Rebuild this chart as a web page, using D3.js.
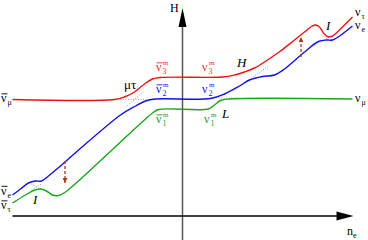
<!DOCTYPE html>
<html>
<head>
<meta charset="utf-8">
<script src="https://cdn.jsdelivr.net/npm/d3@7"></script>
<style>
  body { margin: 0; background: #fff; }
  text { font-family: "Liberation Serif", "DejaVu Serif", serif; }
</style>
</head>
<body>
<div id="chart"></div>
<script>
var W = 368, H = 240;

// level curves, arbitrary units (n_e, H)
var redLevel = [[-170,115.5],[-68,115.5],[-58,118],[-48,123],[-38,131],[-30,136],[-22,137.5],
  [40,138],[52,140],[62,143],[72,147],[85,155],[98,164],[112,175],[122,183],[129,188.5],[133,190],
  [137,188],[141,182],[145,178.5],[149,178.5],[156,184],[164,192],[170,198]];
var blueLevel = [[-170,20],[-162,26],[-154,32],[-147,34],[-141,34],[-134,39],[-122,49],[-105,64],
  [-62,100],[-47,109],[-37,114],[-27,116],[28,116.5],[42,121],[57,129],[67,135],[80,138.5],
  [92,140],[102,146],[122,163],[136,173.5],[144,175],[150,175],[157,179],[170,189]];
var greenLevel = [[-170,12],[-157,20],[-149,24.5],[-142,26],[-136,24],[-130,20],[-124,19.5],
  [-117,23],[-92,45],[-62,73],[-37,96],[-30,102],[-24,105.5],[26,106],[32,110],[38,114.5],
  [46,116],[170,116]];

// unperturbed levels near the resonances
var dotted = [
  [[-62,115.5],[-30,115.5]],
  [[-57,108],[-38,124]],
  [[52,125],[86,149]],
  [[36,117],[56,117]],
  [[-151,31],[-141,25]],
  [[-151,25],[-141,31]],
  [[139,180],[150,173]],
  [[139,173],[150,180]]
];

// brown arrows: [n_e, from H, to H]
var arrows = [[-117.5,54,32],[118.5,158,178]];

var x = d3.scaleLinear().domain([-170,170]).range([12.5,352.5]);
var y = d3.scaleLinear().domain([0,210]).range([215,5]);

var svg = d3.select("#chart").append("svg")
  .attr("width", W)
  .attr("height", H);

var defs = svg.append("defs");
defs.append("marker").attr("id","brownHead")
  .attr("viewBox","0 0 10 10").attr("refX",10).attr("refY",5)
  .attr("markerWidth",5).attr("markerHeight",5).attr("orient","auto")
  .attr("markerUnits","userSpaceOnUse")
  .append("path").attr("d","M0,0L10,5L0,10Z").attr("fill","#a0401a");

var line = d3.line()
  .x(function(d){ return x(d[0]); })
  .y(function(d){ return y(d[1]); })
  .curve(d3.curveCatmullRom.alpha(0.5));

// axes
svg.append("line")
  .attr("x1", x(0)).attr("x2", x(0))
  .attr("y1", 240).attr("y2", y(190))
  .attr("stroke","#555").attr("stroke-width",1.5);
svg.append("path")
  .attr("d", "M"+(x(0)-4)+","+y(188)+"L"+x(0)+","+y(207)+"L"+(x(0)+4)+","+y(188)+"Z")
  .attr("fill","#000");
svg.append("line")
  .attr("x1", x(-170)).attr("x2", x(155))
  .attr("y1", y(-1)).attr("y2", y(-1))
  .attr("stroke","#000").attr("stroke-width",1.5);
svg.append("path")
  .attr("d", "M"+x(154)+","+(y(-1)-4.5)+"L"+x(171)+","+y(-1)+"L"+x(154)+","+(y(-1)+4.5)+"Z")
  .attr("fill","#000");

svg.selectAll("path.dot").data(dotted).enter().append("path")
  .attr("class","dot")
  .attr("d", d3.line().x(function(d){return x(d[0]);}).y(function(d){return y(d[1]);}))
  .attr("fill","none").attr("stroke","#888").attr("stroke-width",0.8)
  .attr("stroke-dasharray","1,1.5");

var levels = [[greenLevel,"#1aa51a"],[blueLevel,"#1010f0"],[redLevel,"#f01010"]];
svg.selectAll("path.lev").data(levels).enter().append("path")
  .attr("class","lev")
  .attr("d", function(d){ return line(d[0]); })
  .attr("fill","none")
  .attr("stroke", function(d){ return d[1]; })
  .attr("stroke-width",1.4);

svg.selectAll("line.arr").data(arrows).enter().append("line")
  .attr("class","arr")
  .attr("x1", function(d){ return x(d[0]); })
  .attr("x2", function(d){ return x(d[0]); })
  .attr("y1", function(d){ return y(d[1]); })
  .attr("y2", function(d){ return y(d[2]); })
  .attr("stroke","#a0401a").attr("stroke-width",1.3)
  .attr("stroke-dasharray","3,2")
  .attr("marker-end","url(#brownHead)");

// labels
function nu(px, py, sub, sup, bar, col, fs) {
  fs = fs || 12;
  var g = svg.append("g").attr("fill", col);
  g.append("text").attr("x",px).attr("y",py).attr("font-size",fs).text("\u03bd");
  if (bar) {
    g.append("line").attr("x1",px+0.5).attr("x2",px+6.5)
      .attr("y1",py-fs*0.68).attr("y2",py-fs*0.68)
      .attr("stroke",col).attr("stroke-width",0.9);
  }
  if (sup) g.append("text").attr("x",px+7).attr("y",py-6).attr("font-size",7).text(sup);
  if (sub) g.append("text").attr("x",px+6.5).attr("y",py+3).attr("font-size",fs*0.66).text(sub);
}

nu(156,71,"3","m",true,"#f03030");
nu(156,93,"2","m",true,"#2020f0");
nu(156,123,"1","m",true,"#20a020");
nu(202,71,"3","m",false,"#f03030");
nu(202,93,"2","m",false,"#2020f0");
nu(204,123,"1","m",false,"#20a020");

nu(1,102,"\u03bc",null,true,"#000");
nu(1,194.5,"e",null,true,"#000");
nu(1,209,"\u03c4",null,true,"#000");
nu(355,16,"\u03c4",null,false,"#000");
nu(355,29,"e",null,false,"#000");
nu(355,102,"\u03bc",null,false,"#000");

svg.append("text").attr("x",124).attr("y",89).attr("font-size",13).text("\u03bc\u03c4");
svg.append("text").attr("x",237).attr("y",67).attr("font-size",13).attr("font-style","italic").text("H");
svg.append("text").attr("x",222).attr("y",118).attr("font-size",13).attr("font-style","italic").text("L");
svg.append("text").attr("x",33).attr("y",204).attr("font-size",13).attr("font-style","italic").text("I");
svg.append("text").attr("x",326).attr("y",30).attr("font-size",13).attr("font-style","italic").text("I");
svg.append("text").attr("x",170).attr("y",12).attr("font-size",12).text("H");
var ne = svg.append("text").attr("x",347).attr("y",235).attr("font-size",12);
ne.append("tspan").text("n");
ne.append("tspan").attr("dy",2.5).attr("font-size",8).text("e");
</script>
</body>
</html>
